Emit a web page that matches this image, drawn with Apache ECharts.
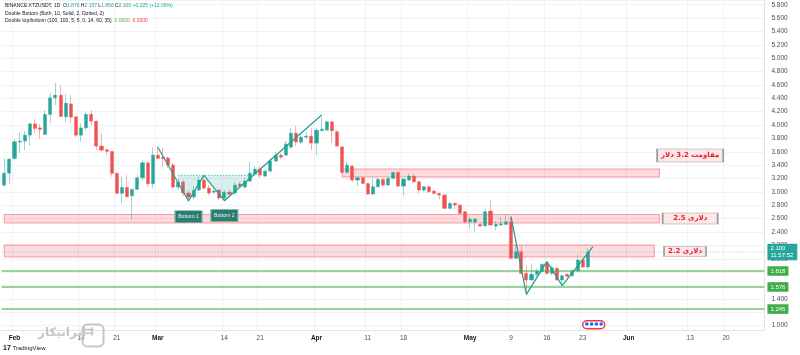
<!DOCTYPE html>
<html><head><meta charset="utf-8">
<script src="https://cdn.jsdelivr.net/npm/echarts@6/dist/echarts.min.js"></script>
<style>html,body{margin:0;padding:0;background:#fff;}#c{width:800px;height:355px;}</style>
</head><body><div id="c"></div>
<script>
// ---------- data ----------
const firstDay = [2022, 0, 30];      // first category (Jan 30 2022)
const axisDayCount = 149;            // categories on the time axis
// daily candles from Jan 30 to May 24: [open, close, low, high]
const candles = [
 [3.10,3.28,3.08,3.50],[3.28,3.49,3.11,3.51],[3.50,3.75,3.476,3.79],[3.745,3.76,3.58,3.894],
 [3.76,3.849,3.625,3.909],[3.849,4.018,3.689,4.029],[4.018,3.949,3.879,4.089],[3.958,3.934,3.79,4.014],
 [3.86,4.159,3.849,4.223],[4.159,4.407,4.029,4.477],[4.407,4.447,4.298,4.627],[4.447,4.129,4.126,4.597],
 [4.123,4.328,4.044,4.462],[4.317,4.118,4.029,4.447],[4.123,3.849,3.819,4.133],[3.849,3.958,3.749,4.029],
 [3.958,4.159,3.924,4.198],[4.159,4.059,3.999,4.223],[4.059,3.685,3.625,4.065],[3.685,3.625,3.60,3.875],
 [3.63,3.606,3.55,3.65],[3.606,3.277,3.226,3.61],[3.277,2.978,2.975,3.301],[2.978,3.068,2.828,3.226],
 [3.068,2.927,2.92,3.251],[2.942,3.038,2.579,3.042],[3.038,3.211,3.027,3.262],[3.211,3.435,3.177,3.476],
 [3.435,3.121,3.076,3.441],[3.121,3.55,3.053,3.66],
 [3.55,3.501,3.49,3.689],[3.52,3.498,3.371,3.655],[3.506,3.401,3.356,3.535],[3.401,3.072,3.057,3.431],
 [3.072,3.147,3.027,3.207],[3.147,2.983,2.938,3.177],[2.983,2.923,2.855,3.027],[2.923,3.027,2.893,3.087],
 [3.027,3.177,3.012,3.237],[3.177,3.057,3.027,3.222],[3.057,2.983,2.953,3.102],[2.997,3.012,2.967,3.042],
 [3.027,2.908,2.878,3.042],[2.908,2.997,2.863,3.027],[2.997,2.967,2.938,3.042],[2.983,3.102,2.953,3.147],
 [3.117,3.087,3.057,3.147],[3.072,3.162,3.042,3.207],[3.162,3.281,3.147,3.446],[3.266,3.341,3.236,3.386],
 [3.341,3.251,3.207,3.386],[3.236,3.311,3.222,3.341],[3.311,3.461,3.296,3.506],[3.461,3.55,3.446,3.595],
 [3.55,3.52,3.491,3.58],[3.55,3.715,3.535,3.76],[3.67,3.879,3.64,3.954],[3.879,3.745,3.685,3.984],
 [3.745,3.819,3.715,3.849],[3.819,3.834,3.79,3.894],[3.834,3.73,3.625,3.954],
 [3.73,3.924,3.55,3.954],[3.917,3.939,3.909,4.118],[3.924,4.048,3.917,4.063],[4.048,3.914,3.73,4.055],
 [3.899,3.685,3.68,3.924],[3.674,3.292,3.277,3.68],[3.292,3.401,3.277,3.45],[3.386,3.177,3.151,3.401],
 [3.177,3.211,3.087,3.237],[3.211,3.127,3.12,3.237],[3.127,2.968,2.953,3.135],[2.968,3.077,2.953,3.202],
 [3.077,3.187,3.068,3.202],[3.187,3.102,3.087,3.202],[3.102,3.202,3.095,3.217],[3.202,3.292,3.192,3.301],
 [3.292,3.087,3.08,3.301],[3.087,3.192,2.938,3.202],[3.177,3.237,3.166,3.277],[3.237,3.151,3.136,3.277],
 [3.151,3.027,2.978,3.166],[3.027,3.077,3.008,3.087],[3.077,3.002,2.987,3.087],[3.012,2.978,2.967,3.038],
 [2.978,2.953,2.888,2.983],[2.953,2.754,2.739,2.958],[2.754,2.828,2.739,2.852],[2.828,2.803,2.739,2.837],
 [2.803,2.679,2.668,2.813],[2.703,2.553,2.529,2.713],
 [2.553,2.589,2.459,2.628],[2.549,2.594,2.404,2.604],[2.514,2.489,2.479,2.529],[2.493,2.703,2.479,2.743],
 [2.713,2.504,2.50,2.878],[2.489,2.514,2.429,2.564],[2.504,2.523,2.49,2.628],[2.514,2.553,2.50,2.653],
 [2.553,2.006,2.00,2.628],[2.006,2.105,1.996,2.205],[2.105,1.782,1.757,2.205],[1.782,1.682,1.468,1.906],
 [1.682,1.767,1.667,1.931],[1.767,1.817,1.731,1.857],[1.806,1.917,1.797,1.931],[1.931,1.782,1.757,1.966],
 [1.782,1.866,1.757,1.896],[1.857,1.682,1.667,1.866],[1.682,1.746,1.597,1.767],[1.767,1.737,1.716,1.782],
 [1.746,1.817,1.731,1.846],[1.817,1.981,1.797,2.056],[1.981,1.876,1.866,2.006],[1.876,2.100,1.856,2.157]
];
const tickDates = ['2022-02-01','2022-02-14','2022-02-21','2022-03-01','2022-03-14','2022-03-21','2022-04-01','2022-04-11','2022-04-18','2022-05-01','2022-05-09','2022-05-16','2022-05-23','2022-06-01','2022-06-13','2022-06-20'];
const tickTexts = ['Feb','14','21','Mar','14','21','Apr','11','18','May','9','16','23','Jun','13','20'];
const monthTicks = ['Feb','Mar','Apr','May','Jun'];
// double bottom zigzags [date, price]
const pattern1 = [['2022-03-01',3.667],['2022-03-07',2.864],['2022-03-10',3.248],['2022-03-14',2.868],['2022-04-02',4.150]];
const pattern2 = [['2022-05-09',2.629],['2022-05-12',1.468],['2022-05-16',1.956],['2022-05-19',1.597],['2022-05-25',2.18]];
const neckline = [['2022-03-05',3.248],['2022-03-19',3.248]];
// resistance / support zones
const zones = [
 {from:'2022-04-06', to:'2022-06-07', hi:3.343, lo:3.223},
 {from:'2022-01-30', to:'2022-06-07', hi:2.662, lo:2.535},
 {from:'2022-01-30', to:'2022-06-06', hi:2.206, lo:2.026}
];
const zoneNotes = [
 {text:'مقاومت 3.2 دلار', date:'2022-06-13', price:3.545},
 {text:'دلاری 2.5', date:'2022-06-13', price:2.602},
 {text:'دلاری 2.2', date:'2022-06-12', price:2.108}
];
const bottomNotes = [
 {text:'Bottom 1', date:'2022-03-07', price:2.629},
 {text:'Bottom 2', date:'2022-03-14', price:2.647}
];
const levels = [1.818, 1.576, 1.245];
const lastPrice = 2.100;
const lastTime = '11:57:52';

// ---------- build ----------
function fmt(t){const d=new Date(t);return d.getUTCFullYear()+'-'+String(d.getUTCMonth()+1).padStart(2,'0')+'-'+String(d.getUTCDate()).padStart(2,'0');}
const t0 = Date.UTC(firstDay[0], firstDay[1], firstDay[2]);
const days = [];
for (let i = 0; i < axisDayCount; i++) days.push(fmt(t0 + i * 86400000));
const tickMap = {};
tickDates.forEach((d, i) => tickMap[d] = tickTexts[i]);
const idx = d => days.indexOf(d);

const UP = '#26a69a', DOWN = '#ef5350';
const wickData = candles.map(c => [c[0], c[1], c[2], c[3]]);
const bodyData = candles.map(c => [c[0], c[1], Math.min(c[0], c[1]), Math.max(c[0], c[1])]);

// shaded area of first pattern between neckline and zigzag
const p1 = pattern1.map(p => [idx(p[0]), p[1]]);
function zig(x){for(let i=0;i<p1.length-1;i++){const a=p1[i],b=p1[i+1];if(x>=a[0]&&x<=b[0])return a[1]+(b[1]-a[1])*(x-a[0])/(b[0]-a[0]);}return null;}
const nl = neckline.map(p => [idx(p[0]), p[1]]);
const shadePts = [[nl[0][0], nl[0][1]], [nl[0][0], zig(nl[0][0])]];
p1.forEach(p => { if (p[0] > nl[0][0] && p[0] < nl[1][0]) shadePts.push(p); });
shadePts.push([nl[1][0], zig(nl[1][0])], [nl[1][0], nl[1][1]]);

const FONT = '"Liberation Sans", Arial, "DejaVu Sans", sans-serif';
const chart = echarts.init(document.getElementById('c'), null, {renderer: 'canvas'});

// horizontal level with a price tag on the right axis
function levelRender(params, api) {
 const cs = params.coordSys;
 const v = api.value(0);
 const y = Math.round(api.coord([0, v])[1]);
 const isLast = params.seriesName === 'last';
 return {type: 'group', children: [
  {type: 'line', shape: {x1: cs.x, y1: y, x2: cs.x + cs.width, y2: y},
   style: isLast ? {stroke: 'rgba(38,166,154,0.45)', lineWidth: 1, lineDash: [1, 2]} : {stroke: '#4caf50', lineWidth: 1.4, opacity: 0.75}},
  {type: 'text', x: cs.x + cs.width + 3, y: y, style: {
   text: isLast ? v.toFixed(3) + '\n' + lastTime : v.toFixed(3),
   font: '6px ' + FONT, fill: '#ffffff', verticalAlign: 'middle', align: 'left', lineHeight: 7,
   backgroundColor: isLast ? '#26a69a' : '#3fae49', padding: isLast ? [1.5, 4, 1, 3] : [1.5, 3, 1, 3]}}
 ]};
}

const option = {
 animation: false,
 backgroundColor: '#ffffff',
 textStyle: {fontFamily: FONT},
 grid: {left: 1.7, right: 800 - 764.4, top: 0, bottom: 25, containLabel: false, outerBoundsMode: 'none'},
 xAxis: {
  type: 'category', data: days, boundaryGap: true,
  axisLine: {show: true, lineStyle: {color: '#e0e3eb'}},
  axisTick: {show: false},
  axisLabel: {
   interval: (i, v) => v in tickMap, fontSize: 6.5, color: '#4a4e59', margin: 5,
   formatter: v => { const t = tickMap[v] || ''; return monthTicks.includes(t) ? '{b|' + t + '}' : t; },
   rich: {b: {fontWeight: 'bold', fontSize: 6.5, color: '#131722'}}
  },
  splitLine: {show: true, interval: (i, v) => v in tickMap, lineStyle: {color: '#f0f2f6', width: 1}}
 },
 yAxis: {
  type: 'value', position: 'right', min: 0.9342, max: 5.8706, splitNumber: 25, scale: true,
  axisLine: {show: true, lineStyle: {color: '#e0e3eb'}},
  axisTick: {show: false},
  axisLabel: {showMinLabel: false, showMaxLabel: false, fontSize: 6.5, color: '#4a4e59', margin: 7,
   formatter: v => Math.abs(v * 5 - Math.round(v * 5)) < 1e-6 ? v.toFixed(3) : ''},
  splitLine: {show: true, lineStyle: {color: '#f0f2f6', width: 1}}
 },
 series: [
  {type: 'custom', name: 'last', z: 1, clip: false, data: [[lastPrice]], renderItem: levelRender},
  {type: 'candlestick', name: 'wicks', data: wickData, barWidth: 1, z: 2,
   itemStyle: {color: 'rgba(38,166,154,0.45)', color0: 'rgba(239,83,80,0.45)', borderColor: 'rgba(38,166,154,0.45)', borderColor0: 'rgba(239,83,80,0.45)', borderWidth: 1}},
  {type: 'candlestick', name: 'bodies', data: bodyData, barWidth: 3.6, z: 3,
   itemStyle: {color: UP, color0: DOWN, borderColor: UP, borderColor0: DOWN, borderWidth: 0.4}},
  {type: 'custom', name: 'shade', z: 4, data: [0],
   renderItem: (params, api) => ({type: 'polygon', shape: {points: shadePts.map(p => api.coord(p))}, style: {fill: 'rgba(38,166,154,0.18)'}})},
  {type: 'line', name: 'neck', data: neckline, symbol: 'none', z: 5,
   lineStyle: {color: '#26a69a', width: 1, type: [1, 2]}},
  {type: 'custom', name: 'levels', z: 5, clip: false, data: levels.map(v => [v]), renderItem: levelRender},
  {type: 'line', name: 'db1', data: pattern1, symbol: 'none', z: 6,
   lineStyle: {color: '#1f9e8c', width: 1.2},
   markArea: {silent: true,
    itemStyle: {color: 'rgba(242,54,69,0.18)', borderColor: 'rgba(242,54,69,0.45)', borderWidth: 1},
    data: zones.map(z => [{xAxis: z.from, yAxis: z.hi}, {xAxis: z.to, yAxis: z.lo}])},
   markPoint: {silent: true, symbol: 'rect',
    data: bottomNotes.map(n => ({coord: [idx(n.date), n.price], symbolSize: [27, 12],
      itemStyle: {color: '#2b7d70', borderColor: '#6bb8aa', borderWidth: 0.8},
      label: {show: true, position: 'inside', formatter: n.text, color: '#e8f5f2', fontSize: 5.2}}))
     .concat(zoneNotes.map((n, i) => ({coord: [idx(n.date), n.price], symbolSize: i === 0 ? [66, 13] : (i === 1 ? [55, 11] : [42, 10]),
      itemStyle: {color: '#fde8e9', borderColor: '#9a9ca3', borderWidth: 0.8},
      label: {show: true, position: 'inside', formatter: n.text, color: '#e8222d', fontSize: 7, fontWeight: 'bold', fontFamily: '"DejaVu Sans", sans-serif'}})))
   }},
  {type: 'line', name: 'db2', data: pattern2, symbol: 'none', z: 6,
   lineStyle: {color: '#1f9e8c', width: 1.2}}
 ],
 graphic: [
  {type: 'text', left: 5, top: 3, z: 100, style: {
   text: 'BINANCE:XTZUSDT, 1D  O{g|1.876} H{g|2.157} L{g|1.856} C{g|2.100} {g|+0.225 (+12.00%)}',
   font: '5px ' + FONT, fill: '#131722', rich: {g: {fill: '#26a69a', font: '5px ' + FONT}}}},
  {type: 'text', left: 5, top: 11, z: 100, style: {text: 'Double Bottom (Both, 10, Solid, 2, Dotted, 2)', font: '5px ' + FONT, fill: '#131722'}},
  {type: 'text', left: 5, top: 18.5, z: 100, style: {
   text: 'Double top/bottom (100, 100, 5, 5, 0, 14, 60, 35)  {g|0.0000}  {r|0.0000}', font: '5px ' + FONT, fill: '#131722',
   rich: {g: {fill: '#4caf50', font: '5px ' + FONT}, r: {fill: '#f23645', font: '5px ' + FONT}}}},
  {type: 'text', left: 38, top: 327, z: 100, style: {text: 'ایرانیکار', font: 'bold 12px "DejaVu Sans", sans-serif', fill: '#c6c6c6'}},
  {type: 'rect', left: 80, top: 322, z: 100, shape: {width: 21, height: 22, r: 5}, style: {fill: 'none', stroke: '#c6c6c6', lineWidth: 2}},
  {type: 'text', left: 84, top: 326, z: 100, style: {text: '⇉', font: 'bold 12px "DejaVu Sans", sans-serif', fill: '#c6c6c6'}},
  {type: 'text', left: 3, top: 345, z: 100, style: {text: '{l|17} TradingView', font: '6px ' + FONT, fill: '#131722', rich: {l: {font: 'bold 7px ' + FONT, fill: '#131722'}}}},
  {type: 'rect', left: 582, top: 320, z: 100, shape: {width: 22, height: 8, r: 4}, style: {fill: '#ffffff', stroke: '#f23645', lineWidth: 1.5}},
  {type: 'circle', left: 585, top: 322.2, z: 101, shape: {r: 1.8}, style: {fill: '#2962ff'}},
  {type: 'circle', left: 589.8, top: 322.2, z: 101, shape: {r: 1.8}, style: {fill: '#2962ff'}},
  {type: 'circle', left: 594.6, top: 322.2, z: 101, shape: {r: 1.8}, style: {fill: '#2962ff'}},
  {type: 'circle', left: 599.4, top: 322.2, z: 101, shape: {r: 1.8}, style: {fill: '#2962ff'}}
 ]
};
chart.setOption(option);
</script>
</body></html>
